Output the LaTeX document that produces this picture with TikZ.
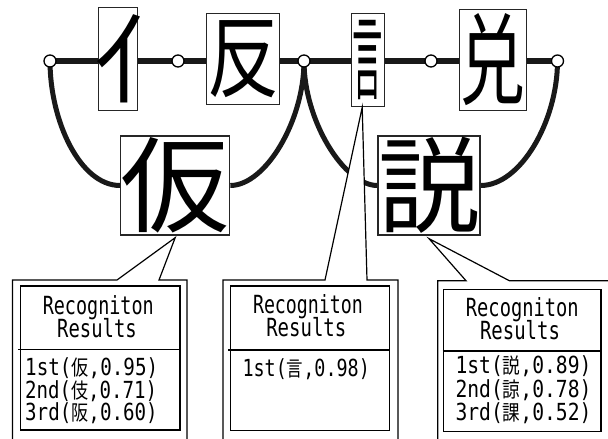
\documentclass[tikz,border=0pt]{standalone}
\usepackage{fontspec}
\usepackage{graphicx}
\setmainfont{DejaVu Sans Mono}
\newfontfamily\jp{Noto Sans CJK JP}
\pgfdeclarelayer{bg}
\pgfsetlayers{bg,main}
\newcommand{\bigglyph}[3]{\scalebox{#1}[1]{\fontsize{#2}{#2}\selectfont\jp #3}}
\newcommand{\fitw}[2]{\resizebox{#1}{\height}{#2}}
\newcommand{\kj}[1]{{\fontsize{21}{21}\selectfont\jp #1}}
\tikzset{
  glyphbox/.style={draw=black!85, line width=1.3pt, fill=white, inner sep=0pt},
  glyph/.style={inner sep=0pt},
  joint/.style={circle, draw=black, fill=white, line width=1.3pt, minimum size=12pt, inner sep=0pt},
  wire/.style={line width=6.5pt, black!90},
  arcline/.style={line width=5pt, black!90},
  callout/.style={draw=black, line width=1.2pt, fill=white, line join=miter},
  resbox/.style={draw=black, line width=1.3pt, inner sep=0pt},
  divider/.style={draw=black, line width=1.3pt},
  txt/.style={inner sep=0pt, font=\fontsize{25}{25}\selectfont},
  txtline/.style={inner sep=0pt, anchor=base west, font=\fontsize{23.5}{23.5}\selectfont},
}
\begin{document}
\begin{tikzpicture}[x=1pt,y=-1pt]
\useasboundingbox (0,0) rectangle (608,439);
% junctions
\coordinate (c1) at (50,61);
\coordinate (c2) at (178,61);
\coordinate (c3) at (304,61);
\coordinate (c4) at (431,61);
\coordinate (c5) at (557.5,61);
% character boxes
\node[glyphbox, minimum width=39pt, minimum height=103pt] (b1) at (117.8,58.7) {};
\node[glyphbox, minimum width=73pt, minimum height=91pt] (b2) at (243.3,58.8) {};
\node[glyphbox, minimum width=33pt, minimum height=93.5pt] (b3) at (367.7,60) {};
\node[glyphbox, minimum width=67pt, minimum height=101pt] (b4) at (492.7,59.7) {};
\node[glyphbox, minimum width=109pt, minimum height=99pt] (k1) at (175.2,185.5) {};
\node[glyphbox, minimum width=102pt, minimum height=99pt] (k2) at (429,185.5) {};
% glyphs
\node[glyph, xshift=25pt] (g1) at (b1) {\bigglyph{1}{96}{亻}};
\node[glyph] (g2) at (b2) {\bigglyph{0.8}{90}{反}};
\node[glyph] (g3) at (b3) {\bigglyph{0.33}{92}{言}};
\node[glyph] (g4) at (b4) {\bigglyph{0.66}{100}{兑}};
\node[glyph] (g5) at (k1) {\bigglyph{1.05}{104}{仮}};
\node[glyph] (g6) at (k2) {\bigglyph{0.98}{104}{説}};
% lattice lines
\begin{pgfonlayer}{bg}
\draw[wire] (c1) -- (c5);
\draw[arcline] (c1) .. controls +(0,60) and +(-40,0) .. (k1.west);
\draw[arcline] (k1.east) .. controls +(35,0) and +(0,60) .. (c3);
\draw[arcline] (c3) .. controls +(0,60) and +(-33,0) .. (k2.west);
\draw[arcline] (k2.east) .. controls +(40,0) and +(0,60) .. (c5);
\end{pgfonlayer}
\foreach \i in {1,...,5} \node[joint] (j\i) at (c\i) {};
% callouts
\coordinate (t1) at ([yshift=-2pt]k1.south);
\coordinate (t2) at ([xshift=-5.5pt]b3.south);
\coordinate (t3) at ([yshift=-3pt]k2.south);
\draw[callout] (12.5,445) |- (117,280) -- (t1) -- (159,280) -| (187,445);
\draw[callout] (223,445) |- (325,280) -- (t2) -- (367,280) -| (398,445);
\draw[callout] (437.7,445) |- (466,280.7) -- (t3) -- (509.3,280.7) -- (620,280.7) -- (620,445);
% result boxes
\node[resbox, minimum width=159.3pt, minimum height=144pt] (r1) at (100.35,358) {};
\node[resbox, minimum width=159pt, minimum height=144.7pt] (r2) at (310.2,358.35) {};
\node[resbox, minimum width=157.7pt, minimum height=142.4pt] (r3) at (522.15,360.5) {};
\draw[divider] ([yshift=-64pt,xshift=-2pt]r1.north west) -- ([yshift=-64pt]r1.north east);
\draw[divider] ([yshift=-64.7pt,xshift=-2pt]r2.north west) -- ([yshift=-64.7pt]r2.north east);
\draw[divider] ([yshift=-62.4pt]r3.north west) -- ([yshift=-62.4pt]r3.north east);
% texts
\node[txt, anchor=base] (h1) at (98.3,314) {\fitw{111pt}{Recogniton}};
\node[txt, anchor=base] (s1) at (97,337.3) {\fitw{79.5pt}{Results}};
\node[txtline] (l11) at (25,375) {\fitw{133pt}{1st(\kj{仮},0.95)}};
\node[txtline] (l12) at (25,398.3) {\fitw{132pt}{2nd(\kj{伎},0.71)}};
\node[txtline] (l13) at (25,420) {\fitw{132.5pt}{3rd(\kj{阪},0.60)}};
\node[txt, anchor=base] (h2) at (308,313.3) {\fitw{110pt}{Recogniton}};
\node[txt, anchor=base] (s2) at (306.3,336.7) {\fitw{80pt}{Results}};
\node[txtline] (l21) at (242.3,376) {\fitw{127.4pt}{1st(\kj{言},0.98)}};
\node[txt, anchor=base] (h3) at (522.3,316.7) {\fitw{112.7pt}{Recogniton}};
\node[txt, anchor=base] (s3) at (520,339.3) {\fitw{80pt}{Results}};
\node[txtline] (l31) at (455.3,373.3) {\fitw{136pt}{1st(\kj{説},0.89)}};
\node[txtline] (l32) at (455.3,397.3) {\fitw{136pt}{2nd(\kj{諒},0.78)}};
\node[txtline] (l33) at (455.3,420) {\fitw{136pt}{3rd(\kj{課},0.52)}};
\end{tikzpicture}
\end{document}
